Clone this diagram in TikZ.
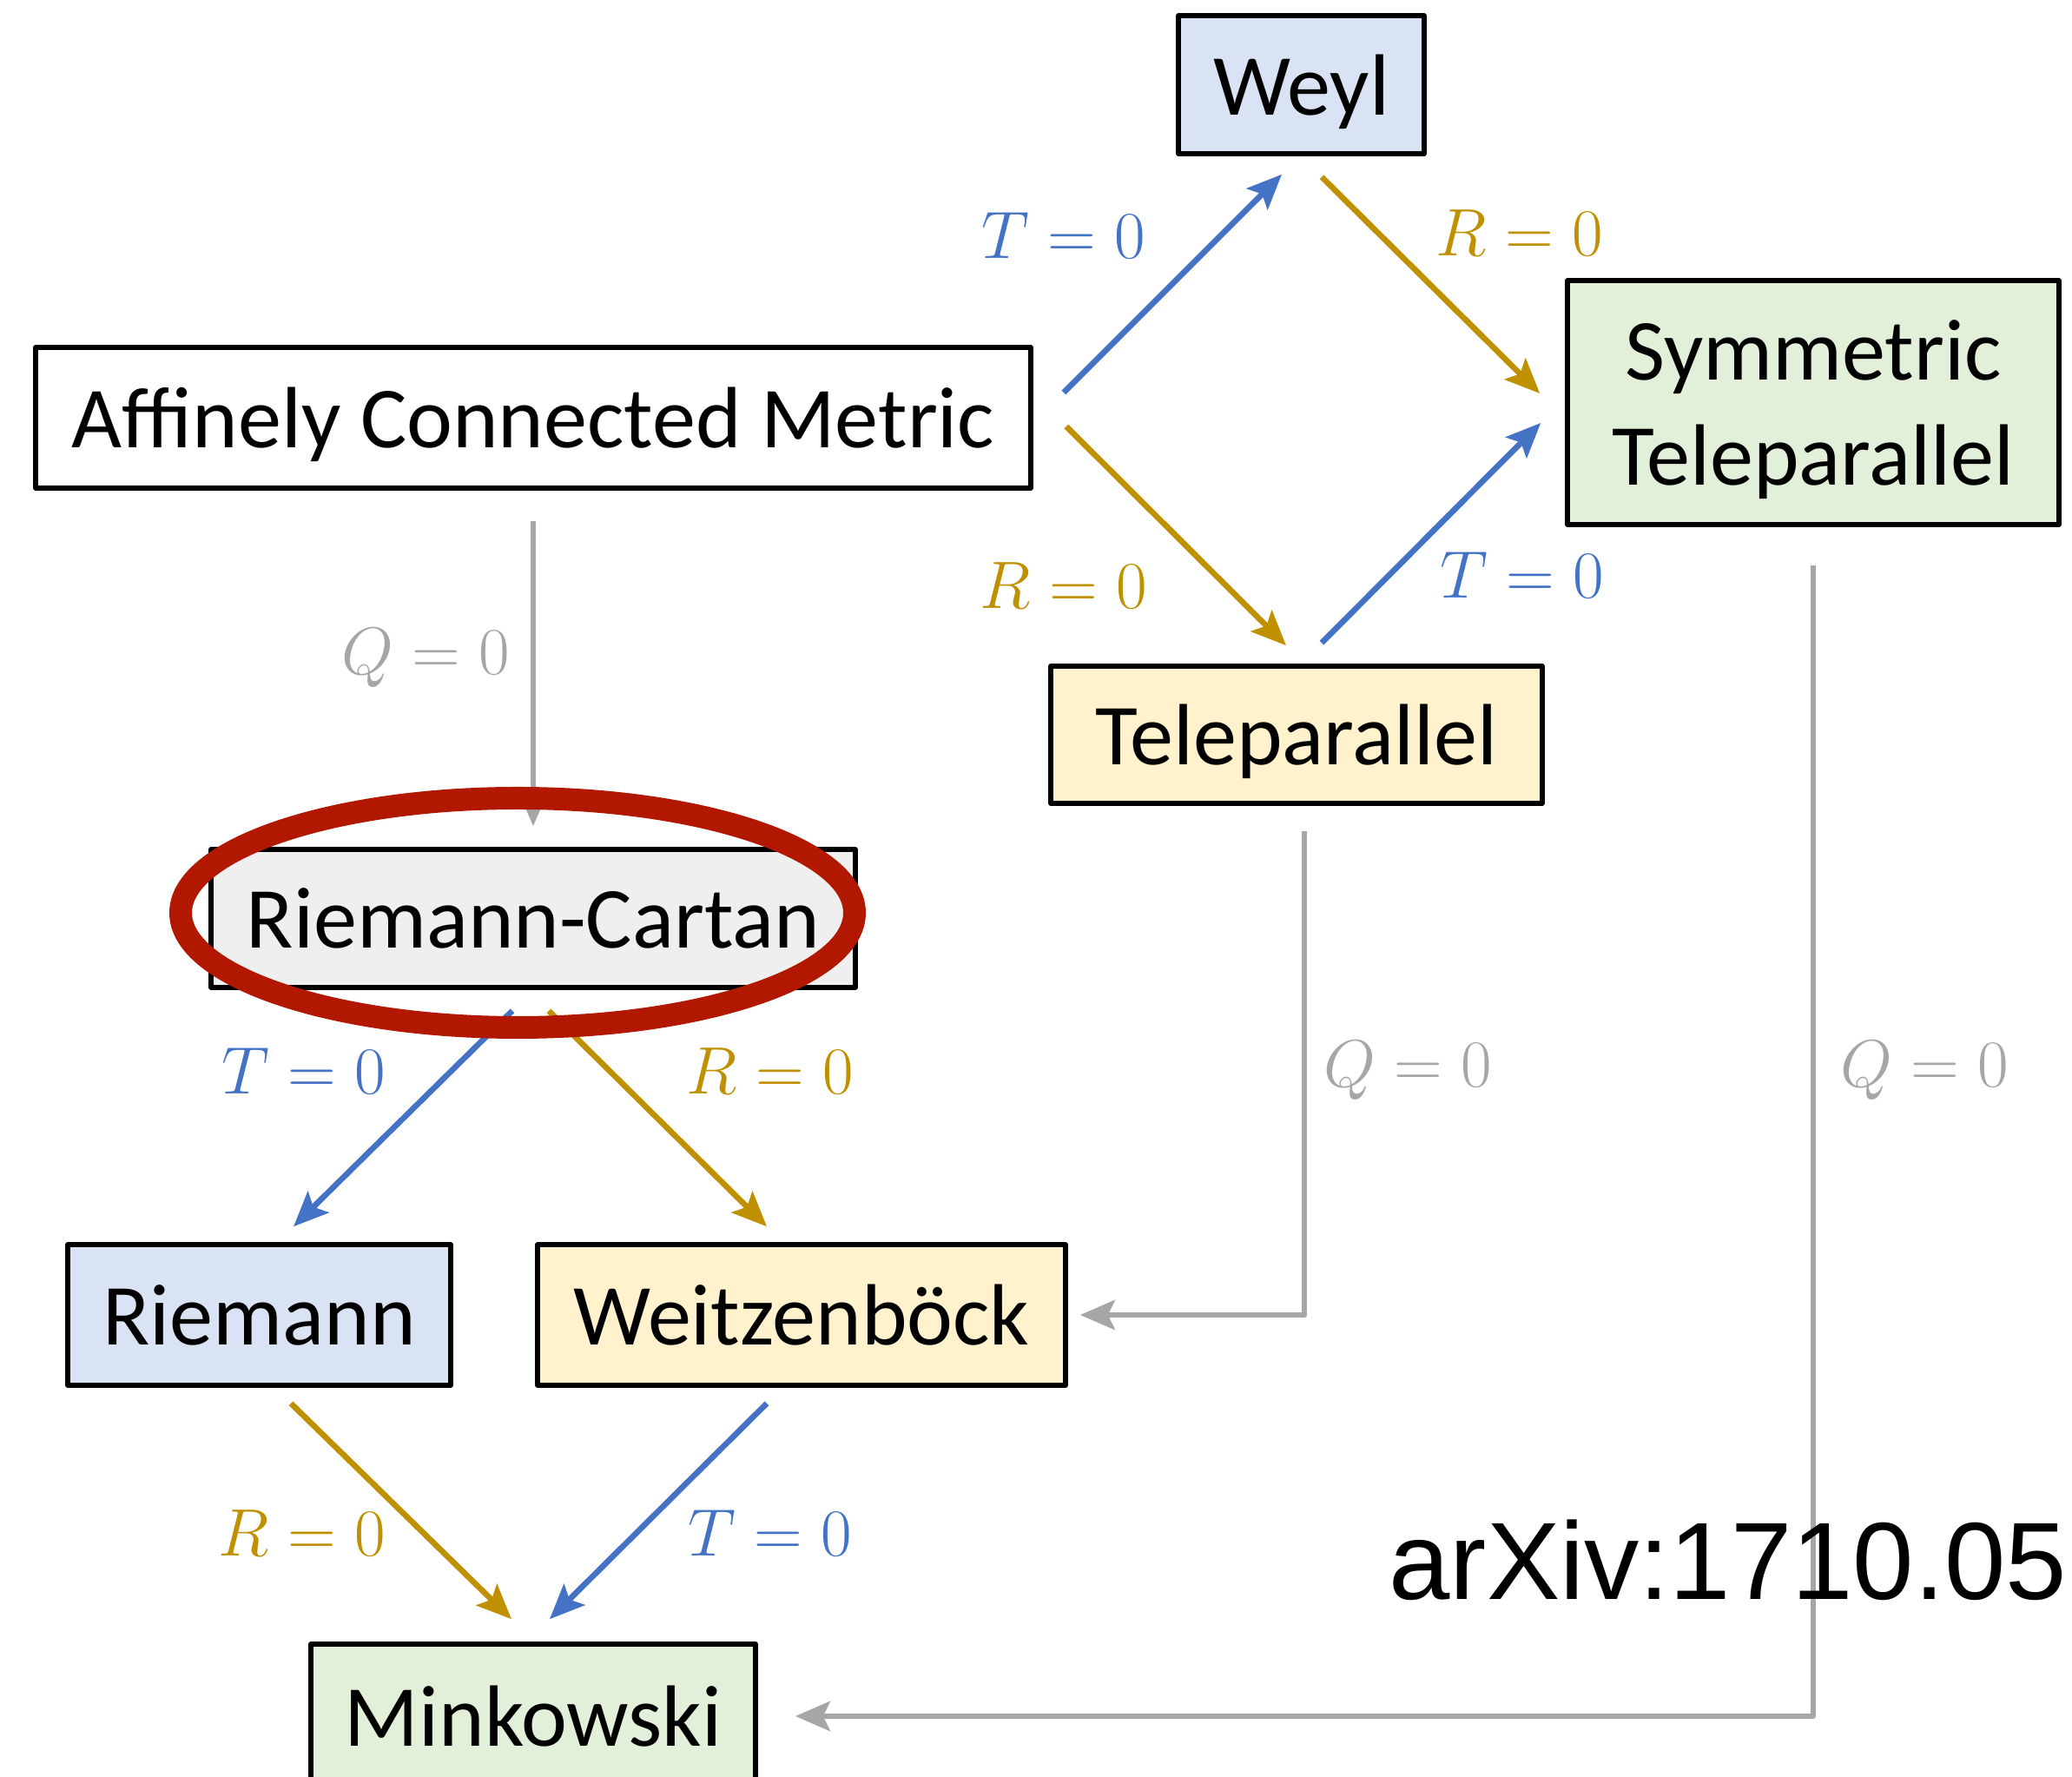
\documentclass[tikz,border=0pt]{standalone}
\usepackage{fontspec}
\setmainfont{Carlito}
\newfontfamily\arxivfont{Liberation Sans}
\usetikzlibrary{arrows.meta,calc}

\definecolor{tblue}{RGB}{68,114,196}
\definecolor{rgold}{RGB}{191,144,0}
\definecolor{qgray}{RGB}{166,166,166}
\definecolor{fillblue}{RGB}{218,227,243}
\definecolor{fillgreen}{RGB}{226,240,217}
\definecolor{fillyellow}{RGB}{255,242,204}
\definecolor{fillgray}{RGB}{239,239,239}
\definecolor{markred}{RGB}{178,24,0}

\tikzset{
	box/.style={draw, line width=1.6pt, inner sep=0pt, align=center, text depth=0pt, font=\fontsize{28.5}{34.5}\selectfont},
	tip/.style={-{Stealth[length=4mm,width=3.4mm,inset=0.8mm]}},
	tarrow/.style={tip, draw=tblue, line width=1.9pt},
	rarrow/.style={tip, draw=rgold, line width=1.9pt},
	qarrow/.style={tip, draw=qgray, line width=1.9pt},
	lbl/.style={font=\fontsize{20.74}{25}\selectfont, scale=1.06},
	tlabel/.style={lbl, text=tblue},
	rlabel/.style={lbl, text=rgold},
	qlabel/.style={lbl, text=qgray},
}

\begin{document}
\begin{tikzpicture}[line join=round]
	\useasboundingbox (0,0) rectangle (23.86,20.46);
	% boxes
	\node[box, fill=fillblue, minimum width=2.83cm, minimum height=1.59cm] (Weyl) at (14.985,19.485) {Weyl};
	\node[box, fill=fillgreen, minimum width=5.66cm, minimum height=2.81cm] (SymTele) at (20.88,15.825) {Symmetric\\Teleparallel};
	\node[box, fill=white, minimum width=11.46cm, minimum height=1.62cm] (Affine) at (6.14,15.65) {Affinely Connected Metric};
	\node[box, fill=fillyellow, minimum width=5.66cm, minimum height=1.58cm] (Tele) at (14.93,12.00) {Teleparallel};
	\node[box, fill=fillgray, minimum width=7.42cm, minimum height=1.59cm] (RC) at (6.14,9.885) {Riemann-Cartan};
	\node[box, fill=fillblue, minimum width=4.41cm, minimum height=1.62cm] (Riemann) at (2.985,5.32) {Riemann};
	\node[box, fill=fillyellow, minimum width=6.08cm, minimum height=1.62cm] (Weitz) at (9.23,5.32) {Weitzenböck};
	\node[box, fill=fillgreen, minimum width=5.12cm, minimum height=1.66cm] (Mink) at (6.14,0.70) {Minkowski};

	% connectors
	\draw[tarrow] ($(Affine.east)+(0.35,0.29)$) -- ($(Weyl.south)+(-0.225,-0.21)$);
	\draw[rarrow] ($(Weyl.south)+(0.235,-0.24)$) -- ($(SymTele.west)+(-0.29,0.105)$);
	\draw[rarrow] ($(Affine.east)+(0.38,-0.10)$) -- ($(Tele.north)+(-0.12,0.21)$);
	\draw[tarrow] ($(Tele.north)+(0.29,0.24)$) -- ($(SymTele.west)+(-0.28,-0.235)$);
	\draw[qarrow] ($(Affine.south)+(0,-0.35)$) -- ($(RC.north)+(0,0.24)$);
	\draw[tarrow] ($(RC.south)+(-0.24,-0.24)$) -- ($(Riemann.north)+(0.395,0.18)$);
	\draw[rarrow] ($(RC.south)+(0.18,-0.24)$) -- ($(Weitz.north)+(-0.40,0.18)$);
	\draw[rarrow] ($(Riemann.south)+(0.365,-0.18)$) -- ($(Mink.north)+(-0.25,0.26)$);
	\draw[tarrow] ($(Weitz.south)+(-0.40,-0.18)$) -- ($(Mink.north)+(0.19,0.26)$);
	\draw[qarrow] ($(Tele.south)+(0.09,-0.29)$) |- ($(Weitz.east)+(0.14,0)$);
	\draw[qarrow] ($(SymTele.south)+(0,-0.44)$) |- ($(Mink.east)+(0.43,0)$);

	% labels
	\node[tlabel] (tWeyl) at (12.25,17.75) {$T = 0$};
	\node[rlabel] (rWeyl) at (17.50,17.78) {$R = 0$};
	\node[rlabel] (rTele) at (12.25,13.72) {$R = 0$};
	\node[tlabel] (tTele) at (17.53,13.84) {$T = 0$};
	\node[qlabel] (qRC) at (4.90,12.88) {$Q = 0$};
	\node[tlabel] (tRiemann) at (3.50,8.13) {$T = 0$};
	\node[rlabel] (rWeitz) at (8.87,8.13) {$R = 0$};
	\node[qlabel] (qWeitz) at (16.21,8.13) {$Q = 0$};
	\node[qlabel] (qMink) at (22.16,8.13) {$Q = 0$};
	\node[rlabel] (rMink) at (3.48,2.81) {$R = 0$};
	\node[tlabel] (tMink) at (8.87,2.81) {$T = 0$};

	% highlight
	\draw[markred, line width=0.26cm] ($(RC.center)+(-0.18,0.065)$) ellipse (3.88cm and 1.32cm);

	\node[font=\arxivfont\fontsize{36}{40}\selectfont, anchor=east, inner sep=0pt] (arxiv) at (23.81,2.50) {arXiv:1710.05};
\end{tikzpicture}
\end{document}
